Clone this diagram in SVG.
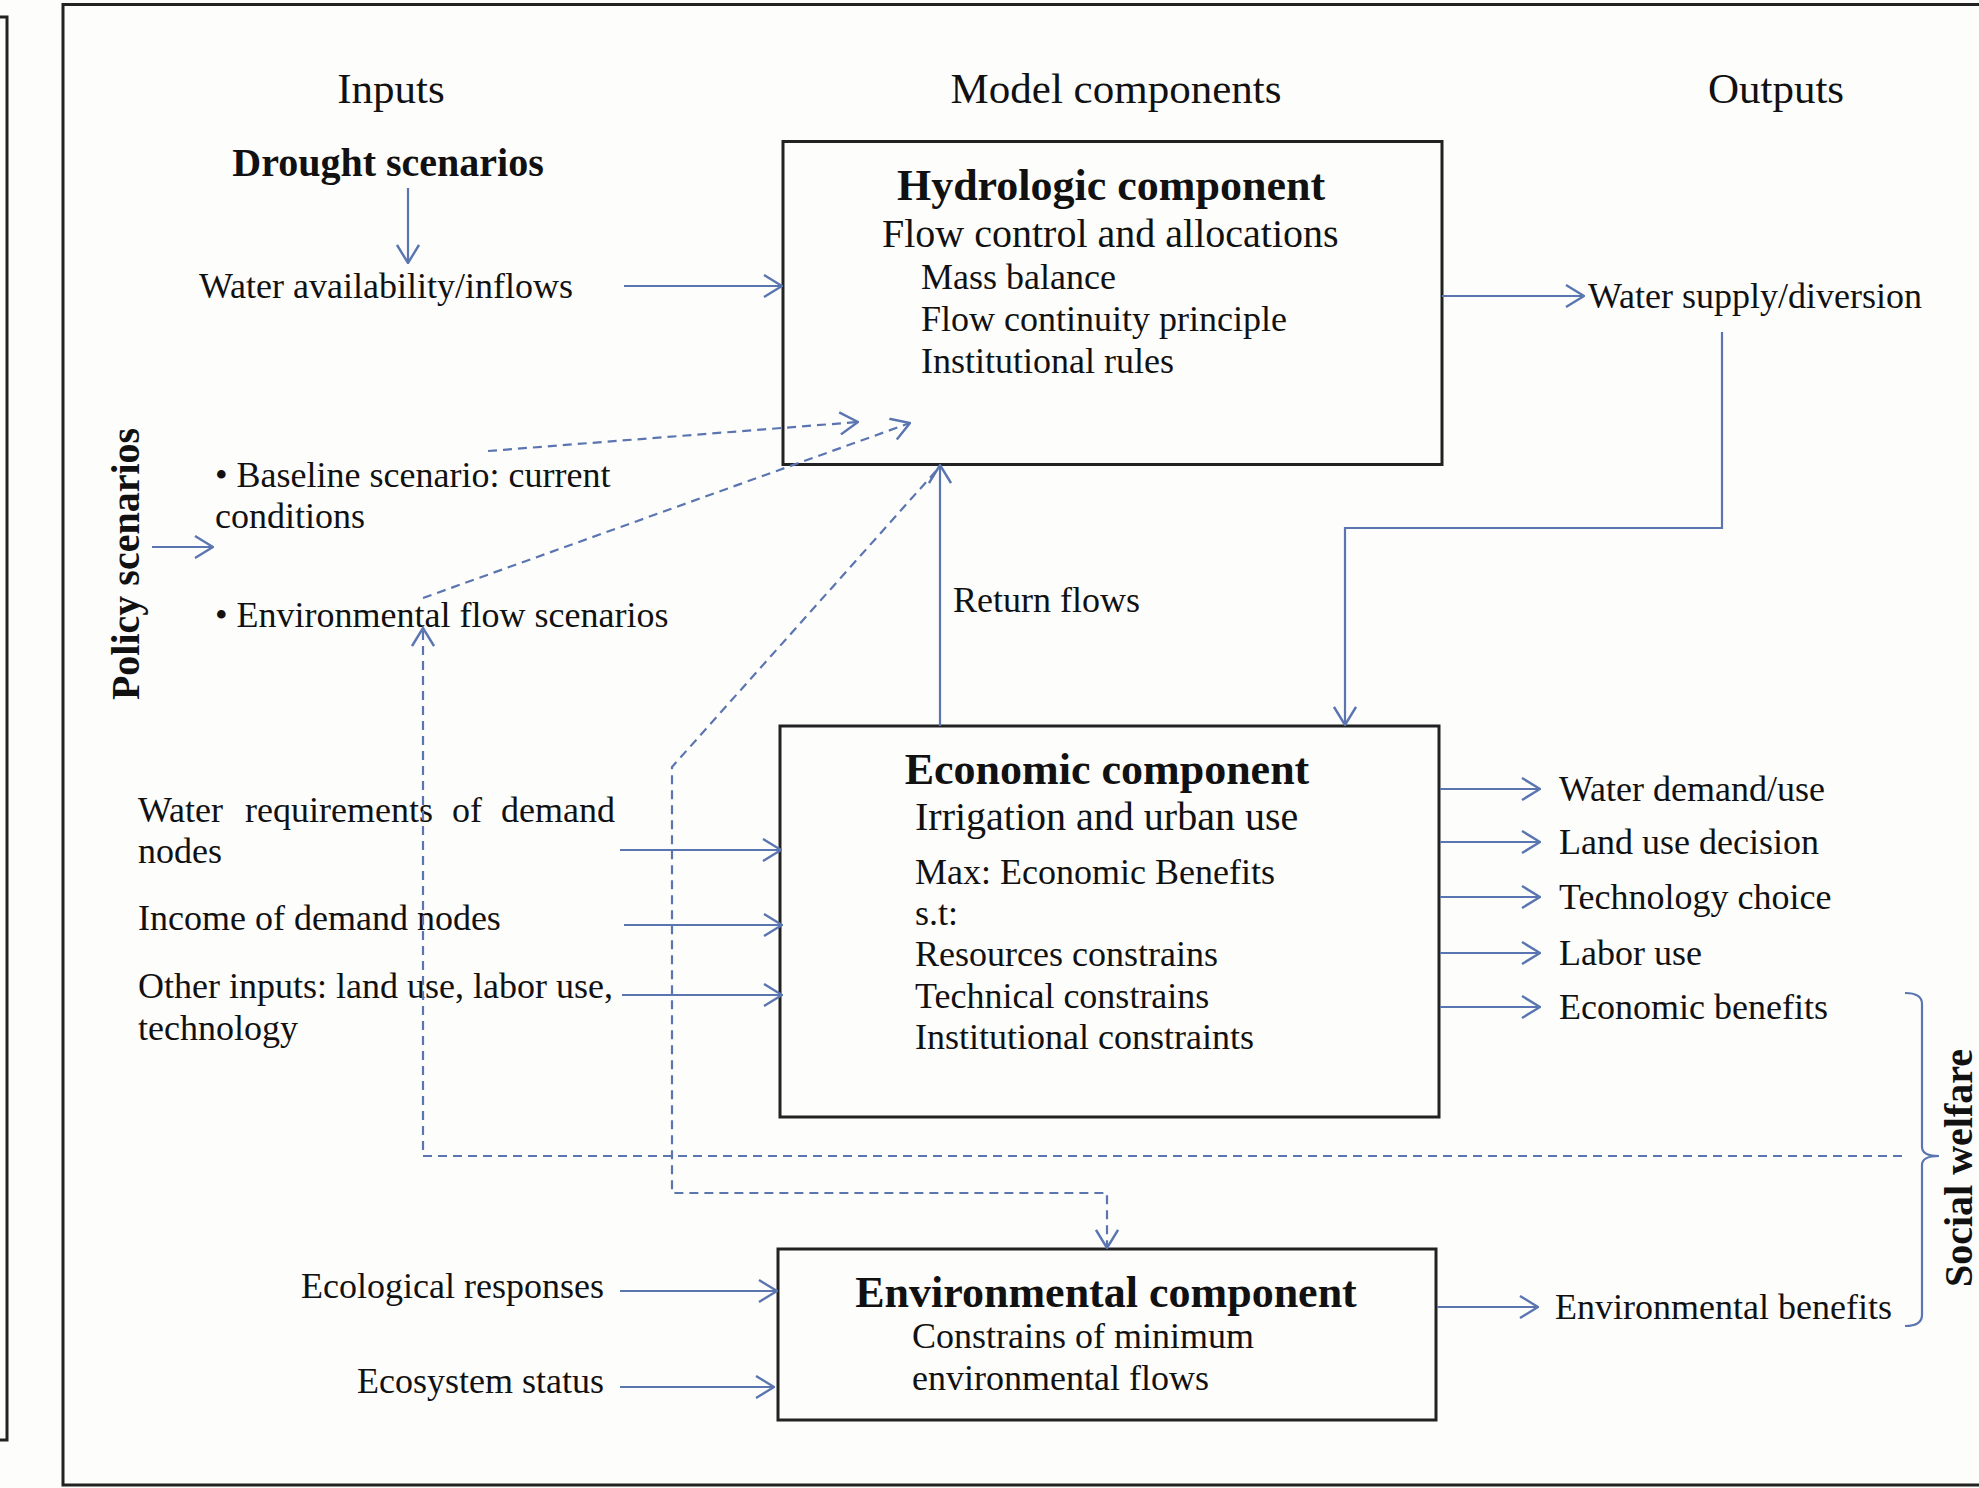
<svg xmlns="http://www.w3.org/2000/svg" width="1979" height="1488" viewBox="0 0 1979 1488">
<defs>
<marker id="arr" viewBox="0 0 20 24" refX="19" refY="12" markerWidth="20" markerHeight="24" markerUnits="userSpaceOnUse" orient="auto">
<path d="M1,1 L19,12 L1,23" fill="none" stroke="#5a75b0" stroke-width="2.4"/>
</marker>
<style>
text{font-family:"Liberation Serif","Times New Roman",serif;fill:#111;}
.h{font-size:43px;}
.t{font-size:44px;font-weight:bold;}
.s{font-size:40px;}
.b{font-size:36px;}
.bb{font-size:40px;font-weight:bold;}
.box{fill:none;stroke:#222;stroke-width:3;}
.c{fill:none;stroke:#5a75b0;stroke-width:2.2;}
.d{fill:none;stroke:#5a75b0;stroke-width:2.2;stroke-dasharray:9,6;}
</style>
</defs>
<rect x="0" y="0" width="1979" height="1488" fill="#fdfdfc"/>
<rect x="-20" y="17" width="27" height="1423" class="box" stroke-width="2.5"/>
<rect x="63" y="4.5" width="1940" height="1480.5" class="box" stroke-width="2.5"/>

<g id="headers">
<text class="h" x="391" y="103" text-anchor="middle">Inputs</text>
<text class="h" x="1116" y="103" text-anchor="middle">Model components</text>
<text class="h" x="1776" y="103" text-anchor="middle">Outputs</text>
</g>

<g id="drought">
<text class="bb" x="388" y="176" text-anchor="middle">Drought scenarios</text>
</g>
<g id="water-availability">
<text class="b" x="199" y="298">Water availability/inflows</text>
</g>

<g id="hydrologic">
<rect x="783" y="141.5" width="659" height="323" class="box"/>
<text class="t" x="1111" y="200" text-anchor="middle">Hydrologic component</text>
<text class="s" x="882" y="247">Flow control and allocations</text>
<text class="b" x="921" y="289">Mass balance</text>
<text class="b" x="921" y="331">Flow continuity principle</text>
<text class="b" x="921" y="373">Institutional rules</text>
</g>

<g id="policy">
<text class="bb" transform="translate(139,564) rotate(-90)" text-anchor="middle">Policy scenarios</text>
<text class="b" x="215" y="487">• Baseline scenario: current</text>
<text class="b" x="215" y="528">conditions</text>
<text class="b" x="215" y="627">• Environmental flow scenarios</text>
</g>

<g id="return-flows">
<text class="b" x="953" y="612">Return flows</text>
</g>

<g id="water-supply">
<text class="b" x="1588" y="308">Water supply/diversion</text>
</g>

<g id="economic-inputs">
<text class="b" x="138" y="822">Water</text>
<text class="b" x="245" y="822">requirements</text>
<text class="b" x="452" y="822">of</text>
<text class="b" x="615" y="822" text-anchor="end">demand</text>
<text class="b" x="138" y="863">nodes</text>
<text class="b" x="138" y="930">Income of demand nodes</text>
<text class="b" x="138" y="998">Other inputs: land use, labor use,</text>
<text class="b" x="138" y="1040">technology</text>
</g>

<g id="economic">
<rect x="780" y="726" width="659" height="391" class="box"/>
<text class="t" x="1107" y="784" text-anchor="middle">Economic component</text>
<text class="s" x="915" y="830">Irrigation and urban use</text>
<text class="b" x="915" y="884">Max: Economic Benefits</text>
<text class="b" x="915" y="925">s.t:</text>
<text class="b" x="915" y="966">Resources constrains</text>
<text class="b" x="915" y="1008">Technical constrains</text>
<text class="b" x="915" y="1049">Institutional constraints</text>
</g>

<g id="economic-outputs">
<text class="b" x="1559" y="801">Water demand/use</text>
<text class="b" x="1559" y="854">Land use decision</text>
<text class="b" x="1559" y="909">Technology choice</text>
<text class="b" x="1559" y="965">Labor use</text>
<text class="b" x="1559" y="1019">Economic benefits</text>
</g>

<g id="environmental-inputs">
<text class="b" x="604" y="1298" text-anchor="end">Ecological responses</text>
<text class="b" x="604" y="1393" text-anchor="end">Ecosystem status</text>
</g>

<g id="environmental">
<rect x="778" y="1249" width="658" height="171" class="box"/>
<text class="t" x="1106" y="1307" text-anchor="middle">Environmental component</text>
<text class="b" x="912" y="1348">Constrains of minimum</text>
<text class="b" x="912" y="1390">environmental flows</text>
</g>

<g id="environmental-output">
<text class="b" x="1555" y="1319">Environmental benefits</text>
</g>

<g id="social-welfare">
<path class="c" d="M1905,993 Q1922,993 1922,1004 L1922,1147 Q1922,1156 1939,1156 Q1922,1156 1922,1165 L1922,1315 Q1922,1326 1905,1326"/>
<text class="bb" transform="translate(1972,1168) rotate(-90)" text-anchor="middle">Social welfare</text>
</g>

<g id="connectors">
<line class="c" x1="408" y1="188" x2="408" y2="263" marker-end="url(#arr)"/>
<line class="c" x1="624" y1="286" x2="782" y2="286" marker-end="url(#arr)"/>
<line class="c" x1="1442" y1="296" x2="1584" y2="296" marker-end="url(#arr)"/>
<polyline class="c" points="1722,332 1722,528 1345,528 1345,725" marker-end="url(#arr)"/>
<line class="c" x1="940" y1="726" x2="940" y2="465" marker-end="url(#arr)"/>
<line class="c" x1="152" y1="547" x2="213" y2="547" marker-end="url(#arr)"/>
<line class="d" x1="488" y1="451" x2="858" y2="422" marker-end="url(#arr)"/>
<line class="d" x1="423" y1="598" x2="910" y2="423" marker-end="url(#arr)"/>
<polyline class="d" points="1902,1156 423,1156 423,628" marker-end="url(#arr)"/>
<polyline class="d" points="936,471 672,767 672,1193 1107,1193 1107,1248" marker-end="url(#arr)"/>
<line class="c" x1="620" y1="850" x2="781" y2="850" marker-end="url(#arr)"/>
<line class="c" x1="624" y1="925" x2="782" y2="925" marker-end="url(#arr)"/>
<line class="c" x1="622" y1="995" x2="782" y2="995" marker-end="url(#arr)"/>
<line class="c" x1="1440" y1="789" x2="1540" y2="789" marker-end="url(#arr)"/>
<line class="c" x1="1440" y1="842" x2="1540" y2="842" marker-end="url(#arr)"/>
<line class="c" x1="1440" y1="897" x2="1540" y2="897" marker-end="url(#arr)"/>
<line class="c" x1="1440" y1="953" x2="1540" y2="953" marker-end="url(#arr)"/>
<line class="c" x1="1440" y1="1007" x2="1540" y2="1007" marker-end="url(#arr)"/>
<line class="c" x1="1437" y1="1307" x2="1538" y2="1307" marker-end="url(#arr)"/>
<line class="c" x1="620" y1="1291" x2="777" y2="1291" marker-end="url(#arr)"/>
<line class="c" x1="620" y1="1387" x2="774" y2="1387" marker-end="url(#arr)"/>
</g>
</svg>
